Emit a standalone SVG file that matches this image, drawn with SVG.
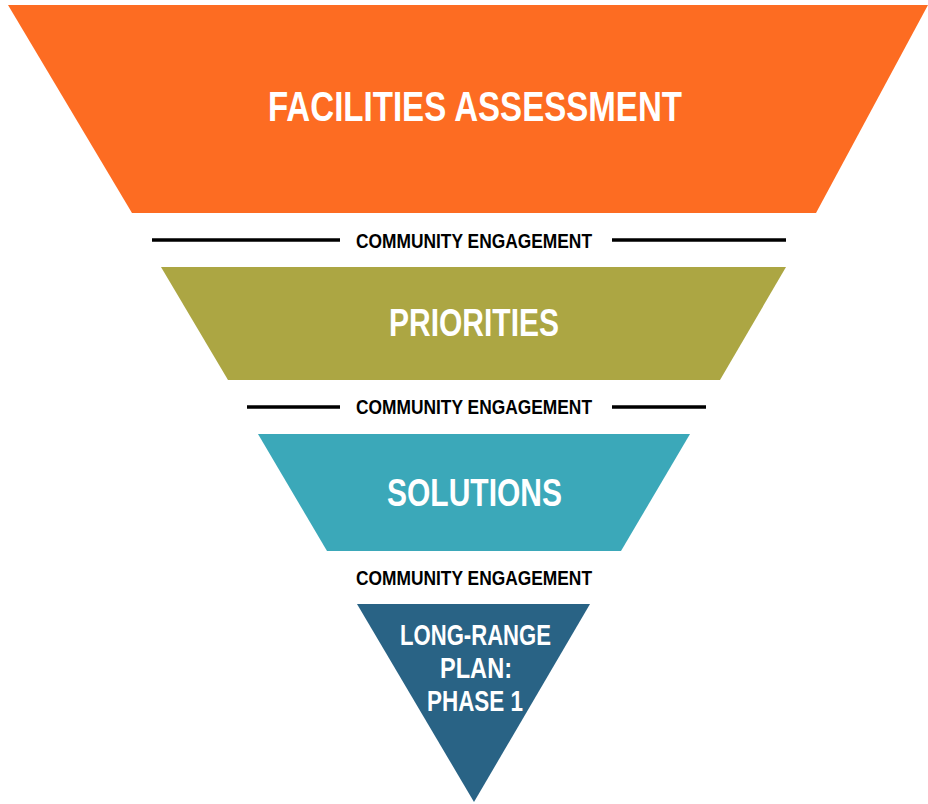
<svg xmlns="http://www.w3.org/2000/svg" width="928" height="804" viewBox="0 0 928 804">
<style>
.t{font-family:"Liberation Sans Narrow","Liberation Sans",Arial,sans-serif;font-weight:bold;fill:#ffffff;text-anchor:start}
.ce{font-family:"Liberation Sans Narrow","Liberation Sans",Arial,sans-serif;font-weight:bold;fill:#000000;font-size:20px}
.ln{stroke:#000000;stroke-width:3.5;fill:none}
</style>
<rect width="928" height="804" fill="#ffffff"/>
<g id="connectors">
<line class="ln" x1="152" y1="240" x2="340" y2="240"/>
<line class="ln" x1="612" y1="240" x2="786" y2="240"/>
<line class="ln" x1="247" y1="407" x2="340" y2="407"/>
<line class="ln" x1="612" y1="407" x2="706" y2="407"/>
<text class="ce" x="356" y="248" textLength="236" lengthAdjust="spacingAndGlyphs">COMMUNITY ENGAGEMENT</text>
<text class="ce" x="356" y="414" textLength="236" lengthAdjust="spacingAndGlyphs">COMMUNITY ENGAGEMENT</text>
<text class="ce" x="356" y="585" textLength="236" lengthAdjust="spacingAndGlyphs">COMMUNITY ENGAGEMENT</text>
</g>
<g id="facilities">
<polygon points="8,5 928,5 816,213 132,213" fill="#FD6C22"/>
<text class="t" x="268" y="121" font-size="43" textLength="414" lengthAdjust="spacingAndGlyphs">FACILITIES ASSESSMENT</text>
</g>
<g id="priorities">
<polygon points="161,267 786,267 720,380 228,380" fill="#ACA643"/>
<text class="t" x="389" y="336" font-size="38" textLength="170" lengthAdjust="spacingAndGlyphs">PRIORITIES</text>
</g>
<g id="solutions">
<polygon points="258,434 690,434 621,551 327,551" fill="#3BA8B9"/>
<text class="t" x="387" y="506" font-size="38" textLength="175" lengthAdjust="spacingAndGlyphs">SOLUTIONS</text>
</g>
<g id="plan">
<polygon points="357,604 590,604 474,802" fill="#296385"/>
<text class="t" x="400" y="645" font-size="30" textLength="151" lengthAdjust="spacingAndGlyphs">LONG-RANGE</text>
<text class="t" x="440" y="678" font-size="30" textLength="72" lengthAdjust="spacingAndGlyphs">PLAN:</text>
<text class="t" x="427" y="711" font-size="30" textLength="96" lengthAdjust="spacingAndGlyphs">PHASE 1</text>
</g>
</svg>
